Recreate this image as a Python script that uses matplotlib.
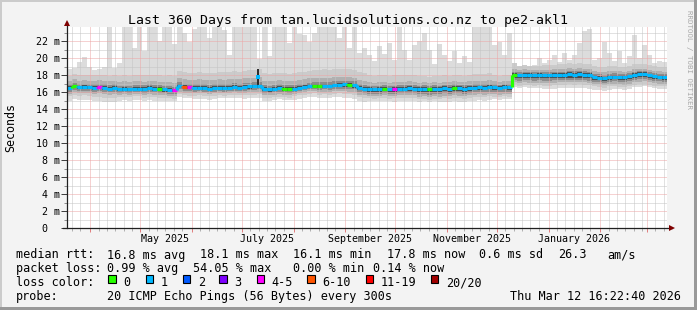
import datetime as dt
import numpy as np
import matplotlib
matplotlib.use("Agg")
import matplotlib.pyplot as plt
import matplotlib.dates as mdates
import matplotlib.transforms as mtransforms
from matplotlib.collections import LineCollection
from matplotlib.patches import Rectangle

# ---------------- data ----------------
end_time = dt.datetime(2026, 3, 12, 16, 22, 40)
span_days = 360

# median rtt (ms), 120 bins of 3 days
median_ms = [
    16.5, 16.7, 16.55, 16.6, 16.55, 16.5, 16.55, 16.45, 16.4, 16.45,
    16.3, 16.35, 16.3, 16.4, 16.4, 16.35, 16.45, 16.4, 16.35, 16.3,
    16.25, 16.2, 16.75, 16.6, 16.55, 16.45, 16.5, 16.45, 16.4, 16.45,
    16.5, 16.45, 16.5, 16.55, 16.5, 16.6, 16.65, 16.7, 16.75, 16.35,
    16.3, 16.4, 16.45, 16.4, 16.35, 16.4, 16.5, 16.6, 16.7, 16.75,
    16.7, 16.75, 16.7, 16.8, 16.85, 16.9, 16.85, 16.8, 16.5, 16.4,
    16.35, 16.3, 16.35, 16.4, 16.3, 16.35, 16.4, 16.4, 16.45, 16.4,
    16.35, 16.4, 16.3, 16.4, 16.35, 16.45, 16.4, 16.5, 16.45, 16.4,
    16.45, 16.5, 16.55, 16.5, 16.6, 16.55, 16.5, 16.6, 16.55, 18.0,
    17.95, 18.05, 18.0, 17.95, 18.0, 17.95, 17.95, 18.0, 18.05, 18.05,
    18.1, 18.05, 18.1, 18.05, 18.0, 17.75, 17.7, 17.6, 17.75, 17.8,
    17.8, 17.75, 17.85, 18.05, 18.1, 18.1, 17.95, 17.85, 17.8, 17.75,
]

# lost pings (of 20) per bin
loss_count = [
    1, 0, 1, 1, 1, 1, 4, 1, 1, 1,
    1, 1, 1, 1, 1, 1, 1, 1, 0, 1,
    1, 4, 1, 6, 4, 1, 1, 1, 1, 1,
    1, 1, 1, 1, 1, 1, 1, 1, 1, 1,
    1, 1, 1, 0, 0, 1, 1, 1, 1, 0,
    0, 1, 1, 1, 1, 1, 0, 1, 1, 1,
    1, 1, 1, 0, 1, 4, 1, 1, 1, 1,
    1, 1, 0, 1, 1, 1, 1, 0, 1, 1,
    1, 1, 1, 1, 1, 1, 1, 1, 1, 0,
    1, 1, 1, 1, 1, 1, 1, 1, 1, 1,
    1, 1, 1, 1, 1, 1, 1, 1, 1, 1,
    1, 1, 1, 1, 1, 1, 1, 1, 1, 1,
]

# slowest ping (ms), 120 bins
max_ms = [
    18.7, 18.8, 19.5, 20.1, 19.0, 18.6, 18.7, 19.0, 23.6, 18.8,
    19.4, 23.6, 23.6, 21.2, 23.6, 20.8, 23.6, 23.6, 22.0, 23.6,
    23.6, 21.6, 23.6, 23.0, 21.9, 23.4, 23.6, 23.6, 22.4, 23.6,
    23.6, 23.3, 20.4, 23.6, 23.6, 23.6, 23.6, 23.6, 19.9, 23.6,
    20.2, 23.6, 23.6, 23.6, 21.8, 23.6, 22.8, 22.7, 21.9, 23.0,
    23.6, 23.6, 23.6, 23.6, 22.4, 23.6, 21.2, 23.6, 20.6, 21.2,
    20.3, 19.6, 21.4, 20.5, 21.8, 19.8, 23.6, 20.9, 19.8, 21.5,
    22.0, 23.0, 21.0, 19.3, 21.7, 20.4, 19.6, 20.8, 19.4, 20.2,
    19.5, 23.6, 23.6, 23.6, 23.6, 21.5, 21.9, 20.4, 23.0, 19.2,
    18.8, 19.0, 18.6, 19.2, 20.0, 19.4, 19.8, 20.3, 19.5, 20.6,
    19.8, 20.4, 21.8, 23.2, 23.4, 19.8, 20.0, 21.9, 20.6, 19.6,
    20.8, 19.4, 20.2, 22.7, 20.0, 21.5, 20.3, 19.4, 19.6, 19.5,
]

# short latency spike in July (time, median, top of dark smoke)
spike_time = dt.datetime(2025, 7, 10, 12, 0)
spike_median_ms = 17.8
spike_top_ms = 18.7

# smoke band edges relative to median (ms), 24 bins of 15 days
dev_min = [-1.5, -1.6, -1.3, -1.4, -1.3, -1.3, -1.2, -1.4, -1.3, -1.3, -1.4, -1.6,
           -1.4, -1.5, -1.5, -1.6, -1.5, -1.4, -1.5, -1.6, -1.6, -1.5, -1.5, -1.4]
dev_lo2 = [-1.0, -1.1, -0.9, -1.0, -1.0, -0.9, -0.9, -1.0, -1.0, -0.9, -1.0, -1.1,
           -1.1, -1.1, -1.2, -1.2, -1.1, -1.1, -1.2, -1.2, -1.2, -1.1, -1.2, -1.1]
dev_lo4 = [-0.7, -0.7, -0.6, -0.7, -0.7, -0.6, -0.6, -0.7, -0.7, -0.6, -0.7, -0.8,
           -0.8, -0.8, -0.9, -0.9, -0.8, -0.8, -0.9, -0.9, -0.9, -0.8, -0.9, -0.8]
dev_lo6 = [-0.45, -0.45, -0.4, -0.45, -0.45, -0.4, -0.4, -0.45, -0.45, -0.4, -0.45, -0.5,
           -0.55, -0.55, -0.6, -0.6, -0.55, -0.55, -0.6, -0.6, -0.65, -0.55, -0.6, -0.55]
dev_lo8 = [-0.25, -0.25, -0.2, -0.25, -0.25, -0.2, -0.2, -0.25, -0.25, -0.2, -0.25, -0.3,
           -0.3, -0.3, -0.35, -0.35, -0.3, -0.3, -0.35, -0.35, -0.4, -0.3, -0.35, -0.3]
dev_hi8 = [0.2, 0.2, 0.2, 0.2, 0.2, 0.2, 0.25, 0.2, 0.2, 0.2, 0.2, 0.2,
           0.2, 0.2, 0.2, 0.2, 0.2, 0.2, 0.2, 0.2, 0.2, 0.2, 0.2, 0.2]
dev_hi6 = [0.4, 0.45, 0.4, 0.45, 0.4, 0.45, 0.5, 0.45, 0.45, 0.4, 0.45, 0.45,
           0.4, 0.4, 0.4, 0.4, 0.4, 0.35, 0.35, 0.35, 0.4, 0.4, 0.35, 0.35]
dev_hi4 = [0.8, 0.85, 0.9, 0.85, 0.9, 1.0, 1.0, 1.0, 0.95, 0.9, 0.95, 0.9,
           0.8, 0.8, 0.75, 0.75, 0.8, 0.7, 0.6, 0.65, 0.7, 0.7, 0.65, 0.65]
dev_hi2 = [1.4, 1.5, 1.6, 1.6, 1.7, 1.8, 1.9, 1.9, 1.8, 1.8, 1.9, 1.8,
           1.6, 1.6, 1.5, 1.5, 1.6, 1.4, 1.1, 1.2, 1.3, 1.3, 1.2, 1.2]

y_ticks = [0, 2, 4, 6, 8, 10, 12, 14, 16, 18, 20, 22]
month_labels = ["May 2025", "July 2025", "September 2025", "November 2025", "January 2026"]
month_label_dates = [dt.datetime(2025, 5, 16), dt.datetime(2025, 7, 16), dt.datetime(2025, 9, 16),
                     dt.datetime(2025, 11, 16), dt.datetime(2026, 1, 16)]

loss_names = ["0", "1", "2", "3", "4-5", "6-10", "11-19", "20/20"]
loss_colors = ["#26ff00", "#00b8ff", "#0059ff", "#7e00ff", "#ff00ff", "#ff5500", "#ff0000", "#a10000"]

legend_rtt = [("median rtt:", 16), ("16.8 ms avg", 107), ("18.1 ms max", 200), ("16.1 ms min", 293),
              ("17.8 ms now", 387), ("0.6 ms sd", 479), ("26.3", 558), ("am/s", 607)]
legend_loss = [("packet loss:", 16), ("0.99 % avg", 107), ("54.05 % max", 193),
               ("0.00 % min", 293), ("0.14 % now", 373)]
probe_text = "20 ICMP Echo Pings (56 Bytes) every 300s"
stamp_text = "Thu Mar 12 16:22:40 2026"
title_text = "Last 360 Days from tan.lucidsolutions.co.nz to pe2-akl1"

# ---------------- layout ----------------
W, H, DPI = 697, 310, 100
PL, PR, PT, PB = 66.5, 666.5, 27.0, 228.0
PX_PER_MS = 8.5
YMAX = (PB - PT) / PX_PER_MS
MONO = "DejaVu Sans Mono"

fig = plt.figure(figsize=(W / DPI, H / DPI), dpi=DPI, facecolor="#f3f3f3")
ax = fig.add_axes([PL / W, 1 - PB / H, (PR - PL) / W, (PB - PT) / H])
ax.set_facecolor("white")

start_time = end_time - dt.timedelta(days=span_days)
x0 = mdates.date2num(start_time)
x1 = mdates.date2num(end_time)
n = len(median_ms)
edges = np.linspace(x0, x1, n + 1)
med = np.array(median_ms)
rep = n // len(dev_min)


def band(dev):
    return med + np.repeat(np.array(dev), rep)


def stepfill(lo, hi, color, z):
    lo = np.append(lo, lo[-1])
    hi = np.append(hi, hi[-1])
    ax.fill_between(edges, lo, hi, step="post", color=color, lw=0, zorder=z)


stepfill(band(dev_min), np.array(max_ms), "#dcdcdc", 1)
stepfill(band(dev_lo2), band(dev_hi2), "#cbcbcb", 1.1)
stepfill(band(dev_lo4), band(dev_hi4), "#b0b0b0", 1.2)
stepfill(band(dev_lo6), band(dev_hi6), "#8c8c8c", 1.3)
stepfill(band(dev_lo8), band(dev_hi8), "#4a4a4a", 1.4)

ax.set_xlim(x0, x1)
ax.set_ylim(0, YMAX)

# grid
minor_c = "#c4c4c4"
major_c = "#eda5a5"
dot = (0, (1, 1))
for v in range(1, int(YMAX) + 1):
    if v % 2 == 1:
        ax.axhline(v, color=minor_c, lw=0.72, ls=dot, zorder=2)
for v in y_ticks[1:]:
    ax.axhline(v, color=major_c, lw=0.72, ls=dot, zorder=2.1)

month_starts = []
minor_days = []
d = dt.datetime(start_time.year, start_time.month, 1)
while d < end_time:
    for day in (1, 6, 11, 16, 21, 26):
        t = dt.datetime(d.year, d.month, day)
        if start_time < t < end_time:
            (month_starts if day == 1 else minor_days).append(mdates.date2num(t))
    d = dt.datetime(d.year + (d.month == 12), d.month % 12 + 1, 1)
for xv in minor_days:
    ax.axvline(xv, color=minor_c, lw=0.72, ls=dot, zorder=2)
for xv in month_starts:
    ax.axvline(xv, color=major_c, lw=0.72, ls=dot, zorder=2.1)

# July spike: dark smoke sliver
st = mdates.date2num(spike_time)
ax.plot([st, st], [16.7, spike_top_ms], color="#2a2a2a", lw=1.4, zorder=2.5, solid_capstyle="butt")


# median line coloured by loss
def loss_idx(c):
    if c <= 3:
        return c
    if c <= 5:
        return 4
    if c <= 10:
        return 5
    if c <= 19:
        return 6
    return 7


segs, cols = [], []
for i in range(n):
    segs.append([(edges[i], med[i]), (edges[i + 1], med[i])])
    cols.append(loss_colors[loss_idx(loss_count[i])])
    if i + 1 < n:
        segs.append([(edges[i + 1], med[i]), (edges[i + 1], med[i + 1])])
        cols.append(loss_colors[loss_idx(loss_count[i + 1])])
ax.add_collection(LineCollection(segs, colors=cols, linewidths=2.3, zorder=3, capstyle="butt"))
ax.plot([st], [spike_median_ms], marker="s", ms=2.3, color=loss_colors[1], mew=0, zorder=3.5)

# axes
for s in ("top", "right", "left", "bottom"):
    ax.spines[s].set_visible(False)
ax.set_xticks(month_starts)
ax.set_xticks(minor_days, minor=True)
ax.set_yticks(y_ticks)
ax.set_yticks([v for v in range(1, 24, 2)], minor=True)
ax.tick_params(axis="x", which="major", length=3, width=0.72, color="#e08080", labelbottom=False)
ax.tick_params(axis="x", which="minor", length=2, width=0.72, color="#b0b0b0")
ax.tick_params(axis="y", which="major", length=4, width=0.72, color="#404040", labelleft=False)
ax.tick_params(axis="y", which="minor", length=2, width=0.72, color="#909090")

axis_c = "#202020"
ax.plot([0, 0], [0, 1 + 5 / (PB - PT)], transform=ax.transAxes, color=axis_c, lw=0.9, clip_on=False, zorder=5)
ax.plot([-4 / (PR - PL), 1 + 5 / (PR - PL)], [0, 0], transform=ax.transAxes, color=axis_c, lw=0.9,
        clip_on=False, zorder=5)
ax.plot([0], [1 + 4.5 / (PB - PT)], marker="^", ms=4.2, color="#7f0000", transform=ax.transAxes,
        clip_on=False, zorder=6, mew=0)
ax.plot([1 + 5.5 / (PR - PL)], [0], marker=">", ms=4.2, color="#7f0000", transform=ax.transAxes,
        clip_on=False, zorder=6, mew=0)

# y tick labels
ytrans = mtransforms.blended_transform_factory(fig.transFigure, ax.transData) + \
    mtransforms.ScaledTranslation(0, -3.6 / DPI, fig.dpi_scale_trans)
for v in y_ticks:
    if v == 0:
        fig.text(47.5 / W, v, "0", transform=ytrans, ha="right", va="baseline", fontsize=7.2, family=MONO)
    else:
        fig.text(59.5 / W, v, f"{v} m", transform=ytrans, ha="right", va="baseline", fontsize=7.2,
                 family=MONO)

# month labels
xtrans = mtransforms.blended_transform_factory(ax.transData, fig.transFigure)
for lab, dte in zip(month_labels, month_label_dates):
    fig.text(mdates.date2num(dte), 1 - 241.5 / H, lab, transform=xtrans, ha="center", va="baseline",
             fontsize=7.2, family=MONO)


def ptext(x, y, s, **kw):
    kw.setdefault("family", MONO)
    fig.text(x / W, 1 - y / H, s, **kw)


ptext(348, 24.3, title_text, ha="center", va="baseline", fontsize=9.5)
ptext(11, 127.5, "Seconds", ha="center", va="center", rotation=90, fontsize=8.4)
ptext(688.5, 59, "RRDTOOL / TOBI OETIKER", ha="center", va="center", rotation=270, fontsize=5.4,
      color="#a9a9a9")

for s, x in legend_rtt:
    ptext(x, 258.5, s, ha="left", va="baseline", fontsize=8.45)
for s, x in legend_loss:
    ptext(x, 272.3, s, ha="left", va="baseline", fontsize=8.45)
ptext(16, 286.2, "loss color:", ha="left", va="baseline", fontsize=8.45)
box_x = [108.3, 145.7, 182.7, 219.3, 256.7, 307.3, 365.7, 430.7]
for name, col, bx in zip(loss_names, loss_colors, box_x):
    fig.patches.append(Rectangle((bx / W, 1 - 282.5 / H), 7.5 / W, 7.5 / H, transform=fig.transFigure,
                                 facecolor=col, edgecolor="black", lw=0.8))
    ptext(bx + 15, 286.2, name, ha="left", va="baseline", fontsize=8.45)
ptext(16, 300.0, "probe:", ha="left", va="baseline", fontsize=8.45)
ptext(107, 300.0, probe_text, ha="left", va="baseline", fontsize=8.45)
ptext(680.5, 300.0, stamp_text, ha="right", va="baseline", fontsize=8.45)

# frame shading
fig.patches.append(Rectangle((0, 1 - 2 / H), 1, 2 / H, transform=fig.transFigure, color="#cbcbcb", lw=0))
fig.patches.append(Rectangle((0, 0), 2 / W, 1, transform=fig.transFigure, color="#cbcbcb", lw=0))
fig.patches.append(Rectangle((0, 0), 1, 3 / H, transform=fig.transFigure, color="#999999", lw=0))
fig.patches.append(Rectangle((1 - 3 / W, 0), 3 / W, 1, transform=fig.transFigure, color="#999999", lw=0))

fig.savefig("out.png", dpi=DPI, facecolor=fig.get_facecolor())
